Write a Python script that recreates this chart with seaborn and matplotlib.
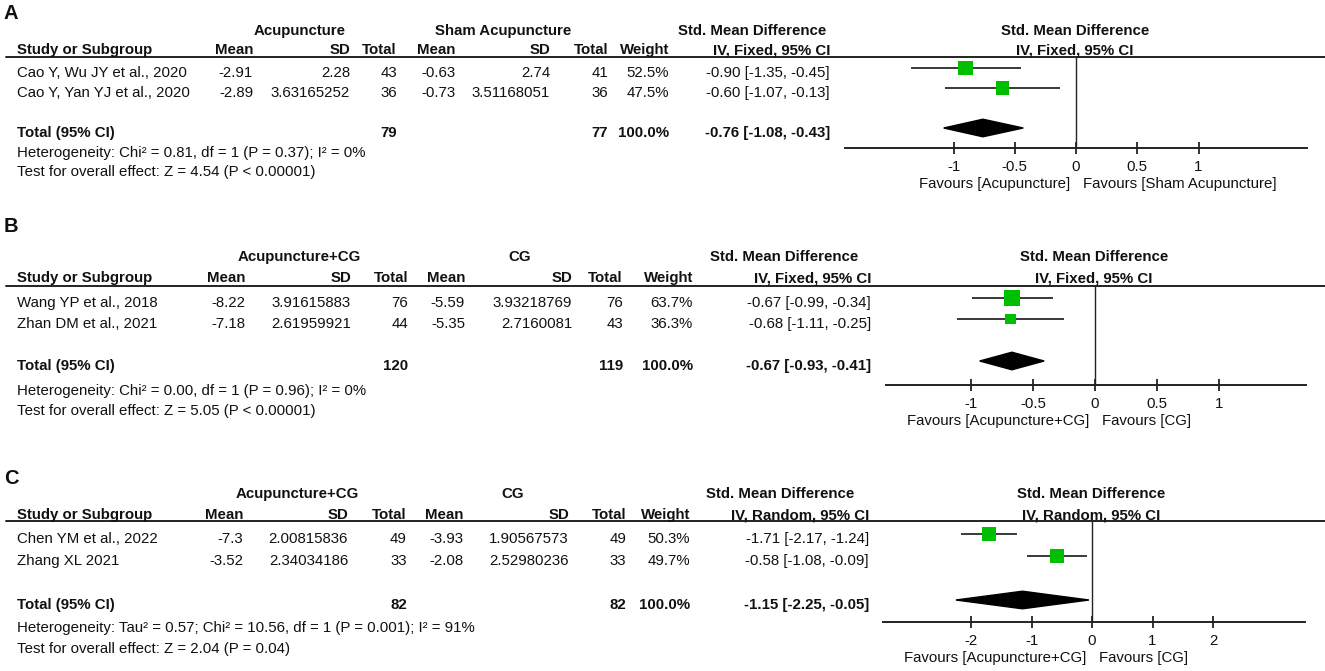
import matplotlib
matplotlib.use("Agg")
import matplotlib.pyplot as plt
import seaborn as sns
import pandas as pd
from matplotlib.patches import Polygon

sns.set_theme(style="white")
plt.rcParams['font.family'] = ['Liberation Sans', 'DejaVu Sans']

# ---- data: panel A ----
studies_a = ["Cao Y, Wu JY et al., 2020", "Cao Y, Yan YJ et al., 2020"]
exp_mean_a = [-2.91, -2.89]
exp_sd_a = [2.28, 3.63165252]
exp_n_a = [43, 36]
ctl_mean_a = [-0.63, -0.73]
ctl_sd_a = [2.74, 3.51168051]
ctl_n_a = [41, 36]
weight_a = [52.5, 47.5]
smd_a = [-0.90, -0.60]
lo_a = [-1.35, -1.07]
hi_a = [-0.45, -0.13]
total_a = [-0.76, -1.08, -0.43]
groups_a = ["Acupuncture", "Sham Acupuncture"]
method_a = "IV, Fixed, 95% CI"
het_a = "Heterogeneity: Chi² = 0.81, df = 1 (P = 0.37); I² = 0%"
test_a = "Test for overall effect: Z = 4.54 (P < 0.00001)"
favours_a = ["Favours [Acupuncture]", "Favours [Sham Acupuncture]"]
ticks_a = [-1, -0.5, 0, 0.5, 1]

# ---- data: panel B ----
studies_b = ["Wang YP et al., 2018", "Zhan DM et al., 2021"]
exp_mean_b = [-8.22, -7.18]
exp_sd_b = [3.91615883, 2.61959921]
exp_n_b = [76, 44]
ctl_mean_b = [-5.59, -5.35]
ctl_sd_b = [3.93218769, 2.7160081]
ctl_n_b = [76, 43]
weight_b = [63.7, 36.3]
smd_b = [-0.67, -0.68]
lo_b = [-0.99, -1.11]
hi_b = [-0.34, -0.25]
total_b = [-0.67, -0.93, -0.41]
groups_b = ["Acupuncture+CG", "CG"]
method_b = "IV, Fixed, 95% CI"
het_b = "Heterogeneity: Chi² = 0.00, df = 1 (P = 0.96); I² = 0%"
test_b = "Test for overall effect: Z = 5.05 (P < 0.00001)"
favours_b = ["Favours [Acupuncture+CG]", "Favours [CG]"]
ticks_b = [-1, -0.5, 0, 0.5, 1]

# ---- data: panel C ----
studies_c = ["Chen YM et al., 2022", "Zhang XL 2021"]
exp_mean_c = [-7.3, -3.52]
exp_sd_c = [2.00815836, 2.34034186]
exp_n_c = [49, 33]
ctl_mean_c = [-3.93, -2.08]
ctl_sd_c = [1.90567573, 2.52980236]
ctl_n_c = [49, 33]
weight_c = [50.3, 49.7]
smd_c = [-1.71, -0.58]
lo_c = [-2.17, -1.08]
hi_c = [-1.24, -0.09]
total_c = [-1.15, -2.25, -0.05]
groups_c = ["Acupuncture+CG", "CG"]
method_c = "IV, Random, 95% CI"
het_c = "Heterogeneity: Tau² = 0.57; Chi² = 10.56, df = 1 (P = 0.001); I² = 91%"
test_c = "Test for overall effect: Z = 2.04 (P = 0.04)"
favours_c = ["Favours [Acupuncture+CG]", "Favours [CG]"]
ticks_c = [-2, -1, 0, 1, 2]

W, H = 1325, 671
FS = 10.8
GREEN = "#00BF00"

fig = plt.figure(figsize=(W / 100, H / 100), dpi=100)
ov = fig.add_axes([0, 0, 1, 1])
ov.set_xlim(0, W)
ov.set_ylim(H, 0)
ov.axis("off")


def txt(x, yc, s, ha="left", bold=False, size=FS):
    # yc = visual centre of the caps, in pixels from the top
    ov.text(x, yc + size * 0.5, s, ha=ha, va="baseline", fontsize=size,
            fontweight="bold" if bold else "normal", color="#111111")


def draw_panel(letter, d, lay):
    top, pitch = lay["row0"], lay["pitch"]
    cols = lay["cols"]
    txt(4, lay["label_y"], letter, bold=True, size=14.5)

    # group headers
    txt(lay["groups_x"][0], lay["group_y"], d["groups"][0], ha="center", bold=True)
    txt(lay["groups_x"][1], lay["group_y"], d["groups"][1], ha="center", bold=True)
    txt(lay["groups_x"][2], lay["group_y"], "Std. Mean Difference", ha="center", bold=True)
    txt(lay["plot_cx"], lay["group_y"], "Std. Mean Difference", ha="center", bold=True)

    heads = ["Mean", "SD", "Total", "Mean", "SD", "Total", "Weight", d["method"]]
    txt(17, lay["head_y"], "Study or Subgroup", bold=True)
    for x, h in zip(cols, heads):
        txt(x, lay["head_y"], h, ha="right", bold=True)
    txt(lay["plot_cx"], lay["head_y"], d["method"], ha="center", bold=True)
    ov.plot([6, W], [lay["line_y"], lay["line_y"]], color="#222222", lw=1.4)

    # study rows
    for i, name in enumerate(d["studies"]):
        yc = top + i * pitch + 3.5
        vals = [repr(d["exp_mean"][i]), repr(d["exp_sd"][i]), str(d["exp_n"][i]),
                repr(d["ctl_mean"][i]), repr(d["ctl_sd"][i]), str(d["ctl_n"][i]),
                f"{d['weight'][i]:.1f}%",
                f"{d['smd'][i]:.2f} [{d['lo'][i]:.2f}, {d['hi'][i]:.2f}]"]
        txt(17, yc, name)
        for x, v in zip(cols, vals):
            txt(x, yc, v, ha="right")

    # total row
    yt = top + 3 * pitch + 3.5
    t = d["total"]
    txt(17, yt, "Total (95% CI)", bold=True)
    txt(cols[2], yt, str(sum(d["exp_n"])), ha="right", bold=True)
    txt(cols[5], yt, str(sum(d["ctl_n"])), ha="right", bold=True)
    txt(cols[6], yt, f"{sum(d['weight']):.1f}%", ha="right", bold=True)
    txt(cols[7], yt, f"{t[0]:.2f} [{t[1]:.2f}, {t[2]:.2f}]", ha="right", bold=True)
    txt(17, lay["het_y"], d["het"])
    txt(17, lay["test_y"], d["test"])

    # forest plot
    x0, x1 = lay["plot_x"]
    zero, unit = lay["zero_x"], lay["unit"]
    ax = fig.add_axes([x0 / W, 1 - lay["axis_y"] / H, (x1 - x0) / W,
                       (lay["axis_y"] - lay["line_y"]) / H])
    ax.set_facecolor("none")
    ax.set_xlim((x0 - zero) / unit, (x1 - zero) / unit)
    ax.set_ylim((lay["axis_y"] - top) / pitch, (lay["line_y"] - top) / pitch)

    df = pd.DataFrame({"smd": d["smd"], "lo": d["lo"], "hi": d["hi"],
                       "weight": d["weight"], "row": range(len(d["studies"]))})
    ax.hlines(df["row"], df["lo"], df["hi"], color="#2a2a2a", lw=1.3, zorder=2)
    sns.scatterplot(data=df, x="smd", y="row", size="weight", sizes=(58, 145),
                    size_norm=(36.3, 63.7), marker="s", color=GREEN,
                    linewidth=0, legend=False, ax=ax, zorder=3)
    hh = 8.8 / pitch
    ax.add_patch(Polygon([(t[1], 3), (t[0], 3 - hh), (t[2], 3), (t[0], 3 + hh)],
                         closed=True, color="black", zorder=3))
    ax.axvline(0, color="#222222", lw=1.0, zorder=1)

    for s in ["top", "left", "right"]:
        ax.spines[s].set_visible(False)
    ax.spines["bottom"].set_color("#222222")
    ax.spines["bottom"].set_linewidth(1.4)
    ax.set_yticks([])
    ax.set_xticks(d["ticks"])
    ax.set_xticklabels([f"{v:g}" for v in d["ticks"]])
    ax.tick_params(axis="x", direction="inout", length=9, width=1.2,
                   labelsize=FS, pad=4.3, colors="#111111", bottom=True)
    ax.set_xlabel("")
    ax.set_ylabel("")

    fy = lay["axis_y"] + 35
    txt(zero - 6, fy, d["favours"][0], ha="right")
    txt(zero + 7, fy, d["favours"][1], ha="left")


panel_a = dict(studies=studies_a, exp_mean=exp_mean_a, exp_sd=exp_sd_a, exp_n=exp_n_a,
               ctl_mean=ctl_mean_a, ctl_sd=ctl_sd_a, ctl_n=ctl_n_a, weight=weight_a,
               smd=smd_a, lo=lo_a, hi=hi_a, total=total_a, groups=groups_a,
               method=method_a, het=het_a, test=test_a, favours=favours_a, ticks=ticks_a)
panel_b = dict(studies=studies_b, exp_mean=exp_mean_b, exp_sd=exp_sd_b, exp_n=exp_n_b,
               ctl_mean=ctl_mean_b, ctl_sd=ctl_sd_b, ctl_n=ctl_n_b, weight=weight_b,
               smd=smd_b, lo=lo_b, hi=hi_b, total=total_b, groups=groups_b,
               method=method_b, het=het_b, test=test_b, favours=favours_b, ticks=ticks_b)
panel_c = dict(studies=studies_c, exp_mean=exp_mean_c, exp_sd=exp_sd_c, exp_n=exp_n_c,
               ctl_mean=ctl_mean_c, ctl_sd=ctl_sd_c, ctl_n=ctl_n_c, weight=weight_c,
               smd=smd_c, lo=lo_c, hi=hi_c, total=total_c, groups=groups_c,
               method=method_c, het=het_c, test=test_c, favours=favours_c, ticks=ticks_c)

layout_a = dict(label_y=12, group_y=30, head_y=49, line_y=57, row0=68, pitch=20,
                het_y=152, test_y=171, axis_y=148, plot_x=(845, 1307), zero_x=1076,
                unit=122.5, cols=[253, 350, 397, 455, 550, 608, 669, 830],
                groups_x=[300, 503, 752], plot_cx=1075)
layout_b = dict(label_y=225, group_y=256, head_y=277, line_y=286, row0=298, pitch=21,
                het_y=390, test_y=410, axis_y=385, plot_x=(886, 1306), zero_x=1095,
                unit=124, cols=[245, 351, 408, 465, 572, 623, 693, 871],
                groups_x=[299, 520, 784], plot_cx=1094)
layout_c = dict(label_y=477, group_y=493, head_y=514, line_y=521, row0=534, pitch=22,
                het_y=627, test_y=648, axis_y=622, plot_x=(883, 1305), zero_x=1092,
                unit=60.5, cols=[243, 348, 407, 463, 569, 626, 690, 869],
                groups_x=[297, 513, 780], plot_cx=1091)

draw_panel("A", panel_a, layout_a)
draw_panel("B", panel_b, layout_b)
draw_panel("C", panel_c, layout_c)

fig.savefig("out.png", dpi=100, facecolor="white")
